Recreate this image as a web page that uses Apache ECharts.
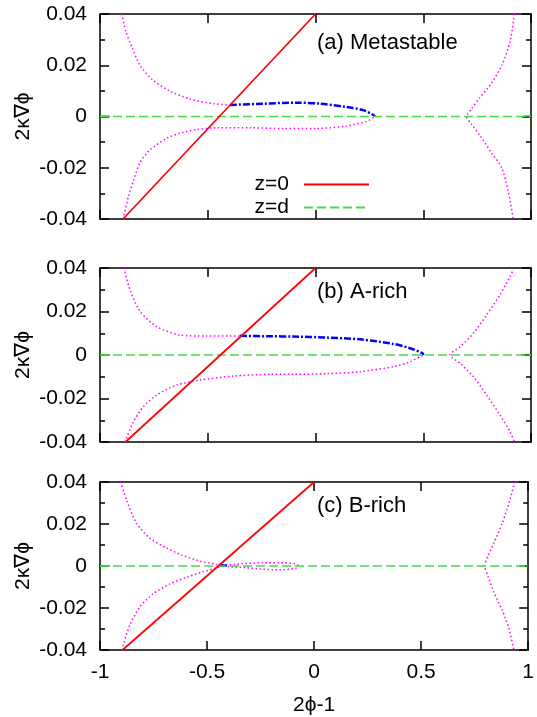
<!DOCTYPE html>
<html><head><meta charset="utf-8">
<script src="https://cdn.jsdelivr.net/npm/echarts@6/dist/echarts.min.js"></script>
<style>html,body{margin:0;padding:0;background:#fff}#c{width:537px;height:717px}</style>
</head><body><div id="c"></div>
<script>
// ---- data ----
const xTicks = [-1, -0.5, 0, 0.5, 1];
const yTicks = [-0.04, -0.02, 0, 0.02, 0.04];
const panelTitles = ['(a) Metastable', '(b) A-rich', '(c) B-rich'];
const zd = [[-1, 0], [1, 0]];
const edgeLeft = [[-1, 0], [-0.955, 0]];
const edgeRight = [[0.965, 0], [1, 0]];

// Panel (a)
const aRed = [[-0.893, -0.04], [0, 0.04]];
const aMagUpper = [[-0.899,0.04],[-0.879,0.0329],[-0.85,0.0267],[-0.814,0.0199],[-0.756,0.0143],[-0.675,0.0099],[-0.582,0.0068],[-0.474,0.005],[-0.397,0.0045]];
const aBlue = [[-0.397,0.0045],[-0.242,0.005],[-0.088,0.0054],[0.021,0.005],[0.145,0.0037],[0.222,0.0025],[0.268,0.0006],[0.276,0]];
const aMagLower = [[-0.893,-0.04],[-0.868,-0.0312],[-0.845,-0.0251],[-0.814,-0.0179],[-0.768,-0.013],[-0.69,-0.0085],[-0.629,-0.0065],[-0.55,-0.0051],[-0.45,-0.0044],[-0.3,-0.0044],[-0.15,-0.0047],[0,-0.0047],[0.145,-0.0037],[0.237,-0.0019],[0.276,0]];
const aMagRight = [[0.923,0.04],[0.903,0.0292],[0.864,0.0199],[0.817,0.013],[0.763,0.0074],[0.725,0.0031],[0.701,0],[0.725,-0.0031],[0.763,-0.0074],[0.817,-0.0142],[0.864,-0.02],[0.895,-0.0294],[0.918,-0.04]];

// Panel (b)
const bRed = [[-0.882, -0.04], [0, 0.04]];
const bMagUpper = [[-0.889,0.04],[-0.861,0.03],[-0.814,0.02],[-0.737,0.013],[-0.629,0.0092],[-0.505,0.0087],[-0.35,0.0088]];
const bBlue = [[-0.35,0.0088],[-0.211,0.0086],[-0.103,0.0085],[0.052,0.008],[0.206,0.0072],[0.361,0.0051],[0.439,0.0031],[0.497,0.0008],[0.5,0]];
const bMagLower = [[-0.884,-0.04],[-0.845,-0.0307],[-0.799,-0.0238],[-0.737,-0.0184],[-0.644,-0.0138],[-0.536,-0.0115],[-0.381,-0.0097],[-0.211,-0.0089],[-0.103,-0.0089],[0.052,-0.0086],[0.206,-0.0077],[0.361,-0.0054],[0.439,-0.0031],[0.5,0]];
const bMagRight = [[0.921,0.04],[0.903,0.0361],[0.856,0.0276],[0.794,0.0184],[0.733,0.01],[0.671,0.0038],[0.624,0],[0.671,-0.0038],[0.733,-0.01],[0.794,-0.0184],[0.856,-0.0276],[0.903,-0.0353],[0.923,-0.04]];

// Panel (c)
const cRed = [[-0.895, -0.04], [0, 0.04]];
const cMagUpper = [[-0.904,0.04],[-0.876,0.0313],[-0.83,0.0204],[-0.768,0.0133],[-0.69,0.0086],[-0.613,0.005],[-0.536,0.0024],[-0.458,0.0008],[-0.43,0],[-0.397,-0.0003],[-0.319,-0.0008],[-0.242,-0.0015],[-0.165,-0.0018],[-0.088,-0.0012],[-0.072,0]];
const cMagLower = [[-0.899,-0.04],[-0.861,-0.0282],[-0.814,-0.0195],[-0.753,-0.0133],[-0.675,-0.0086],[-0.598,-0.0055],[-0.52,-0.0028],[-0.451,-0.0008],[-0.43,0],[-0.366,0.0008],[-0.242,0.0016],[-0.165,0.0016],[-0.088,0.0011],[-0.072,0]];
const cBlue = [[-0.44,0.0003],[-0.40,0.0002]];
const cMagRight = [[0.937,0.04],[0.91,0.0298],[0.879,0.0204],[0.84,0.011],[0.812,0.0047],[0.797,0],[0.812,-0.0047],[0.84,-0.0125],[0.879,-0.0211],[0.91,-0.0297],[0.933,-0.04]];

const panels = [
  {red: aRed, blue: aBlue, mag: [aMagUpper, aMagLower, aMagRight]},
  {red: bRed, blue: bBlue, mag: [bMagUpper, bMagLower, bMagRight]},
  {red: cRed, blue: cBlue, mag: [cMagUpper, cMagLower, cMagRight]}
];

// ---- layout / style ----
const FONT = 'Liberation Sans';
const grids = [
  {left: 100, right: 6, top: 14, height: 205},
  {left: 100, right: 6, top: 268, height: 174},
  {left: 100, right: 6, top: 482, height: 171}
];
const titleTops = [32, 281, 495];
const AX = {lineStyle: {color: '#000', width: 1.5}};

const xAxes = [], yAxes = [], series = [], titles = [];
grids.forEach((g, i) => {
  const bottomAxis = i === 2;
  xAxes.push({
    type: 'value', gridIndex: i, position: 'bottom', min: xTicks[0], max: xTicks[xTicks.length-1], interval: 0.5,
    axisLine: {show: true, onZero: false, ...AX},
    axisTick: {show: true, inside: true, length: 9, lineStyle: {color: '#000', width: 1.5}},
    axisLabel: {show: bottomAxis, fontFamily: FONT, fontSize: 21, color: '#000', margin: 12},
    splitLine: {show: false},
    name: bottomAxis ? '2\u03D5-1' : '', nameLocation: 'middle', nameGap: 45, nameMoveOverlap: false,
    nameTextStyle: {fontFamily: FONT, fontSize: 21, color: '#000'}
  });
  xAxes.push({
    type: 'value', gridIndex: i, position: 'top', min: -1, max: 1, interval: 0.5,
    axisLine: {show: true, onZero: false, ...AX},
    axisTick: {show: true, inside: true, length: 9, lineStyle: {color: '#000', width: 1.5}},
    axisLabel: {show: false}, splitLine: {show: false}
  });
  yAxes.push({
    type: 'value', gridIndex: i, position: 'left', min: yTicks[0], max: yTicks[yTicks.length-1], interval: 0.02,
    axisLine: {show: true, onZero: false, ...AX},
    axisTick: {show: true, inside: true, length: 9, lineStyle: {color: '#000', width: 1.5}},
    minorTick: {show: true, splitNumber: 2, length: 5, lineStyle: {color: '#000', width: 1.5}},
    axisLabel: {fontFamily: FONT, fontSize: 21, color: '#000', margin: 13},
    splitLine: {show: false}, minorSplitLine: {show: false},
    name: '2\u03BA\u2207\u03D5', nameLocation: 'middle', nameGap: 66, nameRotate: 90, nameMoveOverlap: false,
    nameTextStyle: {fontFamily: FONT, fontSize: 21, color: '#000'}
  });
  yAxes.push({
    type: 'value', gridIndex: i, position: 'right', min: -0.04, max: 0.04, interval: 0.02,
    axisLine: {show: true, onZero: false, ...AX},
    axisTick: {show: true, inside: true, length: 9, lineStyle: {color: '#000', width: 1.5}},
    minorTick: {show: true, splitNumber: 2, length: 5, lineStyle: {color: '#000', width: 1.5}},
    axisLabel: {show: false}, splitLine: {show: false}, minorSplitLine: {show: false}
  });
  const xi = 2*i, yi = 2*i;
  const p = panels[i];
  p.mag.forEach((d, k) => series.push({
    name: 'mag' + i + k, type: 'line', xAxisIndex: xi, yAxisIndex: yi, data: d,
    smooth: 0.25,
    symbol: 'none', z: 2, lineStyle: {color: '#ff00ff', width: 1.5, type: [1.5, 2.5]}
  }));
  series.push({
    name: 'blue' + i, type: 'line', xAxisIndex: xi, yAxisIndex: yi, data: p.blue,
    smooth: 0.3,
    symbol: 'none', z: 3, lineStyle: {color: '#0000ff', width: 2.5, type: [7, 2, 2, 2]}
  });
  [edgeLeft, edgeRight].forEach((d, k) => series.push({
    name: 'edge' + i + k, type: 'line', xAxisIndex: xi, yAxisIndex: yi, data: d,
    symbol: 'none', z: 3, lineStyle: {color: '#1f8a1f', width: 2}
  }));
  series.push({
    name: 'z=d', type: 'line', xAxisIndex: xi, yAxisIndex: yi, data: zd,
    symbol: 'none', showSymbol: false, z: 4, itemStyle: {color: '#33dd33'},
    lineStyle: {color: '#44dd44', width: 1.5, type: [9, 4]}
  });
  series.push({
    name: 'z=0', type: 'line', xAxisIndex: xi, yAxisIndex: yi, data: p.red,
    symbol: 'none', showSymbol: false, z: 5, itemStyle: {color: '#ff0000'},
    lineStyle: {color: '#ff0000', width: 1.7}
  });
  titles.push({
    text: panelTitles[i], left: 317, top: titleTops[i], padding: 0,
    textStyle: {fontFamily: FONT, fontSize: 22, fontWeight: 'normal', color: '#000'}
  });
});

const chart = echarts.init(document.getElementById('c'), null, {renderer: 'canvas'});
chart.setOption({
  animation: false,
  backgroundColor: '#fff',
  title: titles,
  grid: grids,
  xAxis: xAxes,
  yAxis: yAxes,
  legend: {
    data: ['z=0', 'z=d'], orient: 'vertical', right: 167, top: 174, align: 'right',
    itemWidth: 65, itemHeight: 14, itemGap: 2, padding: 0,
    itemStyle: {opacity: 0},
    textStyle: {fontFamily: FONT, fontSize: 21, color: '#000', padding: [0, 10, 0, 0]},
    selectedMode: false
  },
  series: series
});
</script></body></html>
